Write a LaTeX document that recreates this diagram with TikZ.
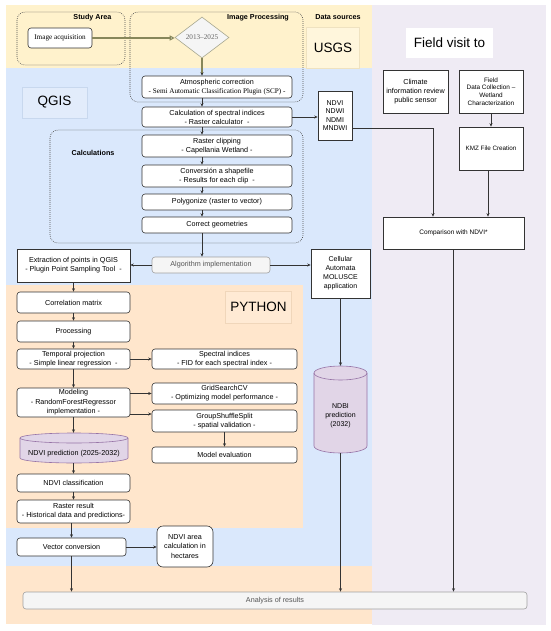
\documentclass[tikz,border=0pt]{standalone}
\usepackage{fontspec}
\setmainfont{Liberation Sans}
\newfontfamily\serifff{Liberation Serif}
\usetikzlibrary{arrows.meta,shapes.geometric}
\definecolor{bandY}{HTML}{FFF2CC}
\definecolor{bandB}{HTML}{DAE8FC}
\definecolor{bandO}{HTML}{FFE6CC}
\definecolor{bandL}{HTML}{EFEBF4}
\definecolor{lineC}{HTML}{333333}
\definecolor{greyF}{HTML}{F5F5F5}
\definecolor{greyB}{HTML}{A0A0A0}
\definecolor{greyT}{HTML}{555555}
\definecolor{oliveC}{HTML}{87875A}
\definecolor{diaB}{HTML}{A8A890}
\definecolor{diaT}{HTML}{666666}
\definecolor{cylF}{HTML}{E1D5E7}
\definecolor{cylB}{HTML}{9673A6}
\definecolor{qF}{HTML}{E2ECFB}
\definecolor{qB}{HTML}{C8D8EE}
\definecolor{uF}{HTML}{FFF6DC}
\definecolor{uB}{HTML}{EFE2C0}
\definecolor{pF}{HTML}{FFEAD4}
\definecolor{pB}{HTML}{F0D6BA}
\newcommand\fsz{\fontsize{7.2}{9}\selectfont}
\newcommand\bigf{\fontsize{13.5}{15}\selectfont}
\begin{document}
\begin{tikzpicture}[x=1pt,y=-1pt,
  bx/.style={draw=lineC, fill=white, rounded corners=3pt, line width=0.6pt, align=center, inner sep=0pt, font=\fsz, text=black},
  sq/.style={bx, rounded corners=0pt},
  arr/.style={draw=lineC, line width=0.6pt, -{Stealth[length=3.5pt,width=3pt]}},
  oline/.style={draw=oliveC, line width=1.1pt},
  grp/.style={draw=lineC!85, line width=0.6pt, dash pattern=on 0.8pt off 1.2pt, rounded corners=8pt},
  lbl/.style={font=\bfseries\fsz, inner sep=0pt},
  tag/.style={font=\bigf, line width=0.5pt, inner sep=0pt},
  cyl/.style={fill=cylF, draw=cylB, line width=0.6pt}
]
\useasboundingbox (0,0) rectangle (550,631);
\fill[white] (0,0) rectangle (550,631);
% bands
\fill[bandL] (372,5) rectangle (546,625);
\fill[bandY] (6,5) rectangle (372,68);
\fill[bandB] (6,68) rectangle (372,566);
\fill[bandO] (6,285) rectangle (303,528);
\fill[bandO] (6,566) rectangle (372,624);
% tag boxes
\node[tag, draw=qB, fill=qF, minimum width=65, minimum height=31] (qgis) at (54.5,102.5) {QGIS};
\node[tag, draw=uB, fill=uF, minimum width=53, minimum height=41] (usgs) at (333,47.5) {USGS};
\node[tag, draw=pB, fill=pF, minimum width=66, minimum height=32] (python) at (258.5,307) {PYTHON};
\node[tag, fill=white, minimum width=87, minimum height=30] (fvt) at (449.5,43) {Field visit to};
% groups
\draw[grp] (17,12) rectangle (125,65);
\draw[grp] (130,12) rectangle (303,102);
\draw[grp] (50,130) rectangle (303,243);
\node[lbl] (lsa) at (92.5,18) {Study Area};
\node[lbl] (lip) at (258,18) {Image Processing};
\node[lbl] (lds) at (338,17.5) {Data sources};
\node[lbl] (lcal) at (93,153) {Calculations};
% nodes
\node[bx, font=\serifff\fsz, minimum width=64, minimum height=20] (imgacq) at (60,38) {Image acquisition};
\node[diamond, aspect=1.3, draw=diaB, fill=greyF, line width=0.6pt, minimum width=54, minimum height=41, inner sep=0pt, font=\serifff\fsz, text=diaT] (dia) at (202,37.5) {2013–2025};
\node[bx, minimum width=150, minimum height=22] (atm) at (217,87) {Atmospheric correction\\{\serifff - Semi Automatic Classification Plugin (SCP) -}};
\node[bx, minimum width=150, minimum height=20] (calc) at (217,117) {Calculation of spectral indices\\- Raster calculator\ \ -};
\node[bx, minimum width=150, minimum height=22] (clip) at (217,146) {Raster clipping\\- Capellania Wetland -};
\node[bx, minimum width=150, minimum height=22] (conv) at (217,176) {Conversión a shapefile\\- Results for each clip\ \ -};
\node[bx, minimum width=150, minimum height=16] (poly) at (217,202) {Polygonize (raster to vector)};
\node[bx, minimum width=150, minimum height=16] (corg) at (217,225) {Correct geometries};
\node[bx, fill=greyF, draw=greyB, text=greyT, minimum width=118, minimum height=16] (algo) at (211,265) {Algorithm implementation};
\node[sq, font=\fontsize{7}{8.6}\selectfont, minimum width=34, minimum height=49] (ndvibox) at (335,115.5) {NDVI\\NDWI\\NDMI\\MNDWI};
\node[sq, minimum width=113, minimum height=33] (extr) at (73.5,265.5) {Extraction of points in QGIS\\- Plugin Point Sampling Tool\ \ -};
\node[sq, font=\fontsize{7}{9}\selectfont, minimum width=59, minimum height=49] (cell) at (340.5,273.5) {Cellular\\Automata\\MOLUSCE\\application};
\node[sq, font=\fontsize{7.2}{9}\selectfont, minimum width=65, minimum height=43] (clim) at (415.5,91.5) {Climate\\information review\\public sensor};
\node[sq, font=\fontsize{6.4}{7.7}\selectfont, minimum width=64, minimum height=43] (field) at (491,91.5) {Field\\Data Collection –\\Wetland\\Characterization};
\node[sq, font=\fontsize{6.3}{7.7}\selectfont, minimum width=64, minimum height=43] (kmz) at (491,148.5) {KMZ File Creation};
\node[sq, font=\fontsize{6.5}{7.7}\selectfont, minimum width=141, minimum height=32] (comp) at (453.5,233) {Comparison with NDVI*};
% python
\node[bx, minimum width=113, minimum height=21] (corrm) at (73.5,302.5) {Correlation matrix};
\node[bx, minimum width=113, minimum height=21] (proc) at (73.5,331.5) {Processing};
\node[bx, minimum width=113, minimum height=20] (temp) at (73.5,359) {Temporal projection\\- Simple linear regression\ \ -};
\node[bx, minimum width=145, minimum height=20] (spec) at (224.5,359) {Spectral indices\\- FID for each spectral index -};
\node[bx, font=\fontsize{7.2}{9.5}\selectfont, minimum width=113, minimum height=29] (model) at (73.5,402.5) {Modeling\\- RandomForestRegressor\\implementation -};
\node[bx, minimum width=145, minimum height=21] (grid) at (224.5,393.5) {GridSearchCV\\- Optimizing model performance -};
\node[bx, minimum width=145, minimum height=22] (group) at (224.5,421) {GroupShuffleSplit\\- spatial validation -};
\node[bx, minimum width=145, minimum height=16] (eval) at (224.5,455) {Model evaluation};
% NDVI prediction cylinder
\path[cyl] (20,438) -- (20,458) arc[start angle=180,end angle=360,x radius=54pt,y radius=5pt] -- (128,438) arc[start angle=0,end angle=180,x radius=54pt,y radius=5pt] -- cycle;
\draw[cylB, line width=0.6pt] (20,438) arc[start angle=180,end angle=360,x radius=54pt,y radius=5pt];
\node[inner sep=0pt, minimum width=108, minimum height=30] (ndvipred) at (74,448) {};
\node[font=\fsz, inner sep=0pt] (ndvipredl) at (74,454) {NDVI prediction (2025-2032)};
% NDBI cylinder
\path[cyl] (314,373) -- (314,446) arc[start angle=180,end angle=360,x radius=26.5pt,y radius=7pt] -- (367,373) arc[start angle=0,end angle=180,x radius=26.5pt,y radius=7pt] -- cycle;
\draw[cylB, line width=0.6pt] (314,373) arc[start angle=180,end angle=360,x radius=26.5pt,y radius=7pt];
\node[inner sep=0pt, minimum width=53, minimum height=87] (ndbi) at (340.5,409.5) {};
\node[font=\fontsize{7}{9}\selectfont, align=center, inner sep=0pt] (ndbil) at (340.5,416) {NDBI\\prediction\\(2032)};
% lower
\node[bx, minimum width=113, minimum height=18] (ndvicl) at (73.5,483) {NDVI classification};
\node[bx, minimum width=113, minimum height=23] (rast) at (73.5,511.5) {Raster result\\- Historical data and predictions-};
\node[bx, minimum width=109, minimum height=18] (vec) at (71.5,547) {Vector conversion};
\node[bx, rounded corners=6pt, font=\fontsize{7.2}{9.5}\selectfont, minimum width=56, minimum height=41] (area) at (185,546.5) {NDVI area\\calculation in\\hectares};
\node[bx, fill=greyF, draw=greyB, text=greyT, minimum width=504, minimum height=17] (anal) at (275,600.5) {Analysis of results};
% coordinates
\coordinate (kink) at (433,128);
\coordinate (gy) at (0,414);
\coordinate (kx) at (488,0);
% connectors
\draw[oline, -{Triangle[open,fill=white,length=5pt,width=5pt]}] (imgacq.east) -- (imgacq.east -| dia.west);
\draw[oline, -{Stealth[length=3.5pt,width=3pt,color=lineC]}] (dia.south) -- (dia.south |- atm.north);
\draw[arr] (atm.south -| dia) -- (calc.north -| dia);
\draw[arr] (calc.south -| dia) -- (clip.north -| dia);
\draw[arr] (clip.south -| dia) -- (conv.north -| dia);
\draw[arr] (conv.south -| dia) -- (poly.north -| dia);
\draw[arr] (poly.south -| dia) -- (corg.north -| dia);
\draw[arr] (corg.south -| dia) -- (algo.north -| dia);
\draw[arr] (calc.east) -- (calc.east -| ndvibox.west);
\draw[arr] (algo.west) -- (algo.west -| extr.east);
\draw[arr] (algo.east) -- (algo.east -| cell.west);
\draw[arr] (ndvibox.east |- kink) -| (comp.north -| kink);
\draw[arr] (field) -- (kmz);
\draw[arr] (kmz.south -| kx) -- (comp.north -| kx);
\draw[arr] (comp.south) -- (comp.south |- anal.north);
\draw[arr] (extr) -- (corrm);
\draw[arr] (corrm) -- (proc);
\draw[arr] (proc) -- (temp);
\draw[arr] (temp) -- (model);
\draw[arr] (temp) -- (spec);
\draw[arr] (model.east |- grid) -- (grid.west);
\draw[arr] (model.east |- gy) -- (group.west |- gy);
\draw[arr] (group) -- (eval);
\draw[arr] (model.south) -- (model.south |- ndvipred.north);
\draw[arr] (ndvipred.south -| ndvicl) -- (ndvicl.north);
\draw[arr] (ndvicl) -- (rast);
\draw[arr] (rast.south -| vec) -- (vec.north);
\draw[arr] (vec.east) -- (vec.east -| area.west);
\draw[arr] (vec.south) -- (vec.south |- anal.north);
\draw[arr] (cell.south) -- (cell.south |- ndbi.north);
\draw[arr] (ndbi.south) -- (ndbi.south |- anal.north);
\end{tikzpicture}
\end{document}
